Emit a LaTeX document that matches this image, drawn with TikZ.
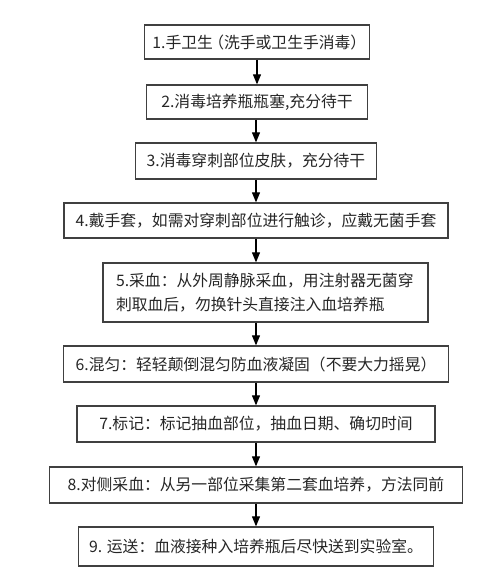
\documentclass[tikz,border=0pt]{standalone}
\usepackage{fontspec}
\setmainfont{Noto Sans CJK SC}
\usetikzlibrary{arrows.meta}

\begin{document}
\begin{tikzpicture}[x=1pt,y=-1pt,
    box/.style={draw=black!75,line width=1.3pt,fill=white,text=black!85,inner sep=0pt,
      font=\fontsize{15.8}{24}\selectfont},
    arr/.style={line width=1.1pt,-{Triangle[length=10pt,width=8pt]}}]
  \useasboundingbox (0,0) rectangle (499,582);
  \node[box,minimum width=225pt,minimum height=34pt] (s1) at (257,42) {1.手卫生\kern-.3em（洗手或卫生手消毒）\kern-.3em};
  \node[box,minimum width=221pt,minimum height=34pt] (s2) at (257,102) {2.消毒培养瓶瓶塞,充分待干};
  \node[box,minimum width=241pt,minimum height=36pt] (s3) at (256,161) {3.消毒穿刺部位皮肤，充分待干};
  \node[box,minimum width=384pt,minimum height=35pt] (s4) at (256,220.5) {4.戴手套，如需对穿刺部位进行触诊，应戴无菌手套};
  \node[box,minimum width=325pt,minimum height=59pt,text width=299pt,align=left] (s5) at (265.5,292.5)
    {5.采血：从外周静脉采血，用注射器无菌穿\\刺取血后，勿换针头直接注入血培养瓶};
  \node[box,minimum width=385pt,minimum height=36pt] (s6) at (256,364) {6.混匀：轻轻颠倒混匀防血液凝固（不要大力摇晃）};
  \node[box,minimum width=358pt,minimum height=36pt] (s7) at (256,424) {7.标记：标记抽血部位，抽血日期、确切时间};
  \node[box,minimum width=413pt,minimum height=36pt] (s8) at (256,485) {8.对侧采血：从另一部位采集第二套血培养，方法同前};
  \node[box,minimum width=355pt,minimum height=39pt] (s9) at (256,546.5) {9. 运送：血液接种入培养瓶后尽快送到实验室。};
  \draw[arr] (s1.south -| s2.north) -- (s2.north);
  \draw[arr] (s2.south -| s3.north) -- (s3.north);
  \draw[arr] (s3.south) -- (s4.north);
  \draw[arr] (s4.south) -- (s4.south |- s5.north);
  \draw[arr] (s6.north |- s5.south) -- (s6.north);
  \foreach \a/\b in {s6/s7,s7/s8,s8/s9}
    \draw[arr] (\a.south) -- (\b.north);
\end{tikzpicture}
\end{document}
